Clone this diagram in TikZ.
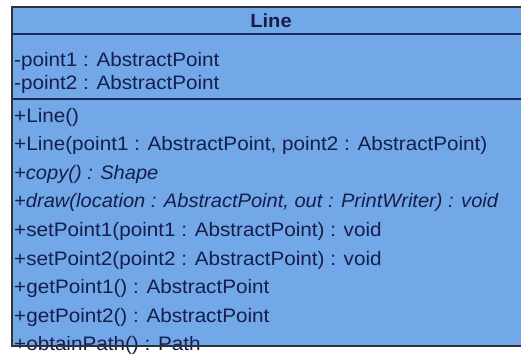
\documentclass[tikz,border=0pt]{standalone}
\usepackage{fontspec}
\setmainfont{Liberation Sans}[FakeStretch=1.06,ItalicFeatures={FakeStretch=1.03}]
\definecolor{classfill}{RGB}{114,168,232}
\definecolor{ink}{RGB}{22,30,76}
\definecolor{rulecol}{RGB}{26,40,90}
\definecolor{framecol}{RGB}{48,50,58}
\tikzset{
  member/.style={anchor=base west, inner sep=0pt, text=ink,
    font=\fontsize{19.5}{22}\selectfont},
  title/.style={anchor=base, inner sep=0pt, text=ink,
    font=\fontsize{19}{22}\selectfont\bfseries},
  divider/.style={draw=rulecol, line width=2pt},
  outline/.style={draw=framecol, line width=1.6pt},
}
\begin{document}
\begin{tikzpicture}[x=1pt,y=-1pt]
\useasboundingbox (0,0) rectangle (521,356);
\fill[white] (0,0) rectangle (521,356);
% class box corners (the right side runs past the page edge)
\coordinate (tl) at (12,7);
\coordinate (tr) at (532,7);
\coordinate (bl) at (12,346);
\coordinate (br) at (532,346);
\coordinate (hl) at (12,34);
\coordinate (hr) at (532,34);
\coordinate (sl) at (12,99);
\coordinate (sr) at (532,99);
\fill[classfill] (tl) rectangle (br);
% class name
\node[title] (name) at (271,27) {Line};
% attributes
\node[member] (a1) at (14,66) {-point1 : AbstractPoint};
\node[member] (a2) at (14,89) {-point2 : AbstractPoint};
% operations
\node[member] (o1) at (14,122) {+Line()};
\node[member] (o2) at (14,150.6) {+Line(point1 : AbstractPoint, point2 : AbstractPoint)};
\node[member] (o3) at (14,179.2) {\itshape +copy() : Shape};
\node[member] (o4) at (14,207.8) {\itshape +draw(location : AbstractPoint, out : PrintWriter) : void};
\node[member] (o5) at (14,236.4) {+setPoint1(point1 : AbstractPoint) : void};
\node[member] (o6) at (14,265) {+setPoint2(point2 : AbstractPoint) : void};
\node[member] (o7) at (14,293.6) {+getPoint1() : AbstractPoint};
\node[member] (o8) at (14,322.2) {+getPoint2() : AbstractPoint};
\node[member] (o9) at (14,350.8) {+obtainPath() : Path};
% compartment rules and frame
\draw[divider] (hl) -- (hr);
\draw[divider] (sl) -- (sr);
\draw[outline] (tr) -- (tl) -- (bl) -- (br);
\end{tikzpicture}
\end{document}
